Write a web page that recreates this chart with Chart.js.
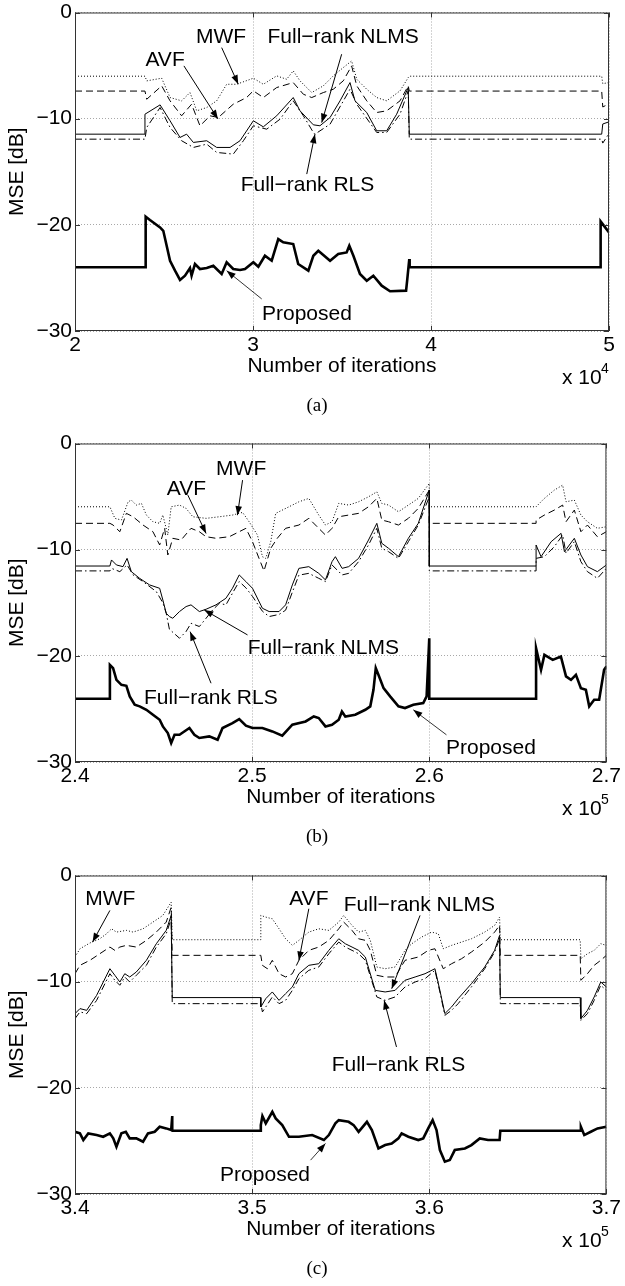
<!DOCTYPE html>
<html><head><meta charset="utf-8">
<script src="https://cdn.jsdelivr.net/npm/chart.js@4.4.1/dist/chart.umd.min.js"></script>
<style>
html,body{margin:0;padding:0;background:#fff;}
body{width:625px;height:1286px;position:relative;overflow:hidden;}
canvas{position:absolute;left:0;}
</style></head>
<body>
<canvas id="ca" width="625" height="425" style="top:-1px"></canvas>
<canvas id="cb" width="625" height="425" style="top:430px"></canvas>
<canvas id="cc" width="625" height="425" style="top:862px"></canvas>
<script>
// ---------- Panel (a): x in iterations, y in dB ----------
const mwfA = [[20000,-6.0],[23930,-6.0],[24030,-6.44],[24870,-6.19],[25340,-8.01],[25990,-8.32],[26460,-7.54],[26840,-9.26],[27400,-8.95],[27960,-8.32],[28520,-6.76],[29080,-6.76],[30020,-6.19],[30580,-6.76],[31330,-5.97],[31890,-6.29],[32260,-5.50],[32640,-6.44],[33300,-7.54],[33950,-6.91],[34510,-5.97],[35070,-5.19],[35540,-4.56],[35830,-6.29],[36390,-7.23],[36950,-8.01],[37510,-8.32],[38260,-7.38],[38720,-6.13],[38780,-6.0],[49590,-6.0],[49650,-6.7],[50000,-6.6]];
const avfA = [[20000,-7.4],[23930,-7.4],[24030,-8.17],[24870,-6.91],[25340,-8.32],[25990,-9.73],[26550,-8.64],[27020,-10.67],[27590,-9.73],[28050,-9.89],[28890,-8.64],[29640,-8.01],[30020,-7.38],[30580,-8.01],[31330,-7.07],[32260,-6.60],[32830,-7.70],[33300,-8.01],[33950,-7.54],[34510,-7.23],[35070,-6.44],[35540,-5.03],[35830,-6.91],[36390,-8.32],[36950,-9.42],[37510,-9.26],[38260,-8.32],[38720,-6.91],[38780,-7.4],[49590,-7.4],[49650,-8.9],[50000,-8.6]];
const nlmsA = [[20000,-11.46],[23930,-11.46],[23930,-9.58],[24780,-8.70],[25340,-10.20],[25900,-11.77],[26270,-11.46],[26650,-12.24],[27400,-12.08],[27960,-12.71],[28710,-12.71],[29270,-12.08],[30020,-10.20],[30580,-10.77],[31330,-9.73],[32260,-8.01],[32640,-9.26],[33390,-10.58],[33760,-10.67],[34330,-9.89],[34890,-8.32],[35450,-6.60],[35730,-8.32],[36390,-9.42],[36950,-11.14],[37510,-11.14],[38070,-9.58],[38720,-7.07],[38780,-11.46],[49590,-11.46],[49650,-10.5],[50000,-10.3]];
const rlsA = [[20000,-11.93],[23930,-11.93],[24030,-10.83],[24780,-8.95],[25340,-10.83],[25990,-12.08],[26650,-12.71],[27400,-12.40],[27960,-13.18],[28890,-13.34],[29460,-12.08],[30020,-10.67],[30770,-10.99],[31520,-10.05],[32260,-8.32],[32830,-9.73],[33390,-11.30],[33480,-11.46],[34330,-10.52],[35450,-7.23],[35830,-8.64],[36950,-11.30],[37510,-11.30],[38260,-9.58],[38720,-7.38],[38780,-11.93],[49590,-11.93],[49650,-12.3],[50000,-11.4]];
const propA = [[20000,-24.0],[23970,-24.0],[23970,-19.24],[24210,-19.55],[24780,-20.24],[24960,-20.56],[25150,-21.97],[25340,-23.38],[25620,-24.32],[25900,-25.19],[26180,-24.79],[26460,-24.07],[26550,-24.79],[26740,-23.69],[27020,-24.16],[27400,-24.07],[27770,-23.85],[28240,-24.63],[28520,-23.53],[28890,-24.16],[29270,-24.25],[29550,-24.16],[30020,-23.53],[30300,-23.94],[30670,-22.91],[31050,-23.38],[31420,-21.34],[31700,-21.65],[32260,-21.81],[32540,-23.69],[33110,-24.32],[33390,-22.91],[33670,-22.44],[34330,-23.38],[34790,-22.75],[35260,-22.60],[35410,-21.97],[35640,-22.91],[36010,-24.63],[36390,-25.26],[36760,-24.79],[37230,-25.73],[37700,-26.26],[38600,-26.20],[38670,-25.10],[38780,-23.22],[38800,-24.0],[49530,-24.0],[49530,-19.68],[50000,-20.71]];

// ---------- Panel (b) ----------
const mwfB = [[240000,-5.96],[241970,-5.96],[242250,-7.05],[242620,-7.21],[243000,-5.49],[243180,-5.33],[243460,-5.80],[243750,-5.64],[244030,-6.74],[244400,-7.37],[244780,-7.52],[244960,-6.74],[245240,-8.62],[245430,-5.96],[245900,-5.80],[246270,-6.11],[246650,-6.90],[247400,-7.05],[248150,-6.90],[248890,-6.74],[249460,-6.49],[249830,-7.37],[250300,-8.62],[250580,-10.66],[250770,-10.82],[251050,-9.25],[251330,-6.58],[252080,-5.96],[252640,-5.49],[253200,-5.17],[253760,-6.74],[254140,-7.68],[254510,-7.37],[254890,-5.64],[255450,-5.80],[256010,-5.49],[256570,-5.02],[257040,-4.55],[257320,-5.64],[257700,-5.80],[258260,-6.43],[258820,-5.80],[259380,-5.17],[260000,-3.76],[260000,-5.96],[266030,-5.96],[266500,-5.17],[267060,-4.39],[267530,-3.92],[267720,-5.49],[268190,-5.33],[268560,-6.74],[268930,-7.37],[269490,-7.99],[270000,-7.84]];
const avfB = [[240000,-7.52],[241970,-7.52],[242150,-7.68],[242530,-8.31],[242900,-6.58],[243280,-6.90],[243840,-7.68],[244400,-8.31],[244780,-9.56],[245060,-7.99],[245240,-10.50],[245520,-8.93],[245990,-9.09],[246550,-7.99],[247020,-8.31],[247400,-8.78],[247960,-8.93],[248710,-8.78],[249270,-8.31],[249650,-7.99],[250020,-9.25],[250390,-10.82],[250670,-12.0],[251050,-9.87],[251420,-8.93],[251890,-7.99],[252640,-7.68],[253200,-7.05],[253760,-7.99],[254140,-8.62],[254510,-7.99],[254890,-6.90],[255450,-6.74],[256010,-6.58],[256570,-5.96],[257040,-5.17],[257320,-7.21],[257700,-7.37],[258260,-7.68],[258820,-7.05],[259380,-6.11],[260000,-4.39],[260000,-7.52],[266030,-7.52],[266030,-7.21],[266500,-6.74],[267060,-6.27],[267530,-5.80],[267720,-7.37],[268190,-6.27],[268560,-8.31],[268930,-7.68],[269490,-8.78],[270000,-8.31]];
const nlmsB = [[240000,-11.54],[241970,-11.54],[242060,-10.97],[242340,-11.44],[242710,-11.60],[242940,-10.82],[243180,-12.07],[243650,-12.70],[244210,-13.32],[244780,-13.64],[244960,-14.74],[245150,-15.99],[245330,-16.3],[245520,-16.46],[245900,-15.83],[246270,-15.36],[246550,-15.2],[247020,-15.83],[247400,-15.61],[247960,-15.20],[248520,-14.58],[248890,-13.64],[249270,-12.38],[249650,-13.01],[250020,-13.64],[250580,-15.52],[250960,-15.83],[251520,-15.83],[251890,-15.20],[252270,-13.32],[252640,-11.76],[253200,-11.60],[253760,-12.23],[254140,-12.85],[254510,-11.13],[254700,-10.66],[255080,-11.76],[255450,-11.60],[256010,-10.82],[256570,-9.09],[257040,-7.52],[257320,-9.40],[257700,-9.87],[258260,-10.66],[258820,-8.93],[259380,-7.52],[260000,-4.39],[260000,-11.54],[266030,-11.54],[266030,-9.56],[266310,-10.66],[266880,-9.25],[267440,-8.46],[267630,-10.19],[268190,-8.93],[268560,-10.50],[268930,-11.60],[269490,-12.07],[270000,-11.44]];
const rlsB = [[240000,-12.0],[241970,-12.0],[242060,-11.76],[242530,-12.07],[242940,-11.44],[243280,-12.38],[243840,-13.01],[244590,-13.95],[244960,-15.0],[245150,-15.99],[245330,-17.5],[245900,-18.34],[246270,-17.71],[246550,-16.93],[247020,-17.24],[247400,-16.46],[247770,-15.68],[248150,-15.05],[248520,-15.2],[248890,-14.1],[249270,-13.0],[249650,-13.6],[250020,-14.4],[250580,-15.8],[250960,-16.3],[251520,-16.1],[251890,-15.7],[252270,-14.0],[252640,-12.4],[253200,-12.23],[253760,-12.70],[254140,-13.01],[254510,-11.44],[255080,-12.38],[255450,-12.23],[256010,-11.13],[256570,-9.56],[257040,-7.99],[257320,-9.87],[257700,-10.19],[258260,-10.82],[258820,-9.25],[259380,-7.68],[260000,-5.02],[260000,-12.0],[266030,-12.0],[266030,-10.82],[266500,-10.66],[267060,-9.72],[267530,-8.62],[267720,-10.34],[268190,-9.25],[268560,-11.13],[268930,-12.07],[269490,-12.70],[270000,-11.76]];
const propB = [[240000,-24.04],[241970,-24.04],[241970,-20.85],[242150,-21.16],[242340,-22.26],[242620,-22.73],[242900,-22.82],[243090,-23.82],[243370,-24.61],[243650,-24.76],[244030,-25.08],[244400,-25.55],[244780,-26.02],[244960,-26.65],[245240,-27.27],[245430,-28.21],[245620,-27.43],[245900,-27.43],[246460,-26.80],[246740,-27.43],[247020,-27.74],[247580,-27.59],[248050,-27.90],[248330,-26.80],[248890,-26.33],[249270,-25.96],[249650,-26.58],[250020,-26.80],[250580,-26.80],[251140,-27.12],[251700,-27.52],[252270,-26.49],[253020,-26.18],[253480,-25.71],[253760,-25.86],[254140,-26.65],[254510,-26.49],[254890,-26.02],[255070,-25.24],[255260,-25.71],[255820,-25.55],[256390,-25.08],[256670,-24.76],[256850,-23.20],[256980,-21.16],[257130,-21.79],[257420,-23.04],[257790,-23.82],[258260,-24.76],[258630,-24.92],[259100,-24.61],[259660,-24.45],[259850,-23.82],[260000,-18.34],[260000,-24.04],[266030,-24.04],[266030,-19.28],[266310,-21.32],[266500,-19.91],[266970,-20.38],[267430,-20.06],[267720,-21.94],[268000,-22.26],[268280,-21.79],[268560,-23.04],[268840,-23.20],[269030,-24.76],[269310,-24.14],[269590,-24.14],[269870,-21.32],[270000,-21.0]];

// ---------- Panel (c) ----------
const mwfC = [[340000,-7.68],[340280,-6.90],[340840,-6.36],[341400,-5.96],[341780,-5.49],[342060,-5.02],[342340,-5.33],[342900,-5.17],[343280,-5.33],[343840,-5.02],[344400,-4.39],[344960,-3.76],[345430,-2.51],[345490,-6.05],[350490,-6.05],[350490,-3.76],[350770,-3.92],[351140,-4.08],[351520,-5.02],[351890,-5.96],[352270,-6.58],[352640,-6.11],[353200,-5.33],[353760,-5.02],[354330,-5.17],[354890,-4.39],[355170,-3.76],[355640,-4.70],[356010,-5.33],[356390,-5.17],[356670,-6.11],[357040,-8.62],[357510,-8.78],[358070,-8.62],[358630,-7.05],[359010,-6.43],[359570,-5.80],[360130,-5.33],[360510,-5.49],[360790,-6.90],[361260,-6.58],[361820,-6.27],[362380,-5.96],[363130,-5.33],[363690,-4.70],[363970,-3.92],[364010,-6.05],[368520,-6.05],[368560,-7.84],[368930,-7.37],[369310,-7.05],[369680,-6.43],[370000,-6.58]];
const avfC = [[340000,-9.25],[340280,-8.46],[340840,-7.99],[341400,-7.37],[341970,-6.74],[342250,-7.05],[342530,-6.74],[342900,-6.58],[343460,-6.74],[344030,-6.11],[344590,-5.33],[345150,-4.39],[345430,-2.98],[345490,-7.52],[350490,-7.52],[350580,-8.46],[350860,-8.78],[351140,-7.99],[351520,-9.25],[351890,-9.56],[352270,-9.25],[352640,-7.99],[353200,-7.05],[353760,-6.74],[354330,-6.11],[354890,-5.02],[355170,-4.39],[355640,-5.17],[356010,-5.96],[356390,-6.11],[356670,-7.05],[357040,-9.40],[357510,-9.56],[358070,-9.56],[358630,-7.99],[359380,-7.68],[359940,-7.05],[360320,-6.90],[360790,-8.78],[361260,-8.31],[361820,-7.84],[362380,-7.21],[363130,-6.27],[363690,-5.33],[363970,-4.70],[364010,-7.52],[368520,-7.52],[368560,-9.87],[368930,-9.25],[369310,-8.46],[369680,-7.99],[370000,-7.52]];
const nlmsC = [[340000,-13.01],[340280,-12.54],[340660,-12.70],[341220,-11.29],[341970,-8.78],[342250,-9.40],[342530,-10.03],[342810,-9.25],[343090,-9.56],[343460,-9.09],[344030,-7.99],[344590,-6.43],[345150,-5.17],[345430,-3.76],[345490,-11.50],[350490,-11.50],[350490,-12.38],[350770,-11.60],[351140,-10.97],[351520,-11.76],[351890,-11.13],[352270,-10.50],[352640,-9.25],[353200,-8.46],[353760,-8.31],[354330,-7.05],[354890,-5.96],[355260,-6.43],[355640,-6.74],[356010,-7.05],[356390,-7.68],[356950,-10.82],[357510,-10.97],[358070,-10.82],[358630,-9.87],[359200,-9.56],[359760,-9.25],[360320,-8.78],[360600,-10.82],[360880,-13.01],[361260,-12.38],[361630,-11.60],[362380,-10.19],[363130,-8.62],[363690,-7.05],[363970,-5.64],[364010,-11.50],[368520,-11.50],[368560,-13.48],[368930,-12.70],[369310,-11.44],[369680,-10.03],[370000,-10.50]];
const rlsC = [[340000,-13.48],[340280,-12.85],[340660,-13.01],[341220,-11.76],[341970,-9.25],[342250,-9.87],[342530,-10.34],[342810,-9.56],[343090,-10.03],[343460,-9.40],[344030,-8.46],[344590,-6.74],[345150,-5.49],[345430,-4.08],[345490,-12.07],[350490,-12.07],[350580,-12.85],[350770,-12.38],[351140,-11.44],[351520,-12.07],[351890,-11.76],[352270,-10.82],[352640,-9.72],[353200,-8.93],[353760,-8.62],[354330,-7.37],[354890,-6.27],[355260,-6.74],[355640,-7.05],[356010,-7.37],[356390,-7.99],[357040,-11.44],[357510,-11.76],[358070,-11.44],[358630,-10.50],[359200,-10.03],[359760,-9.72],[360320,-8.93],[360600,-10.97],[360880,-13.17],[361260,-12.70],[361630,-12.07],[362380,-10.50],[363130,-8.78],[363690,-7.21],[363970,-5.96],[364010,-12.07],[368520,-12.07],[368560,-13.64],[368930,-13.01],[369310,-11.76],[369680,-10.34],[370000,-10.82]];
const propC = [[340000,-24.14],[340280,-24.29],[340470,-24.92],[340750,-24.29],[341220,-24.45],[341590,-24.61],[341970,-24.29],[342160,-24.76],[342340,-25.55],[342620,-24.29],[342870,-24.14],[343090,-24.76],[343460,-24.76],[343840,-25.08],[344120,-24.29],[344500,-24.14],[344780,-23.67],[345150,-23.82],[345430,-23.98],[345490,-22.66],[345490,-24.04],[350490,-24.04],[350490,-23.51],[350580,-22.66],[350770,-23.35],[351140,-22.26],[351330,-22.88],[351700,-23.51],[352080,-24.61],[352640,-24.61],[353390,-24.45],[354050,-24.92],[354330,-24.45],[354700,-23.35],[354890,-23.04],[355450,-23.20],[355730,-23.51],[356010,-24.14],[356480,-23.20],[356760,-23.98],[357130,-25.71],[357510,-25.39],[357880,-25.24],[358260,-24.76],[358440,-24.29],[358820,-24.61],[359380,-24.92],[359660,-24.76],[359940,-23.82],[360190,-23.04],[360410,-23.98],[360600,-25.86],[360880,-26.96],[361160,-26.80],[361440,-25.86],[362010,-25.71],[362380,-25.39],[362850,-24.76],[363320,-24.92],[363970,-24.92],[364010,-24.04],[368520,-24.04],[368560,-23.67],[368750,-24.45],[369120,-24.14],[369500,-23.82],[370000,-23.67]];

// tick values
const yTicks = [-30, -20, -10, 0];
const xTicksA = [20000, 30000, 40000, 50000];
const xTicksB = [240000, 250000, 260000, 270000];
const xTicksC = [340000, 350000, 360000, 370000];

// labels (text, text position, arrow from -> to), in data coordinates
const notesA = [
  ['MWF', 28200, -2.21, 28240, -3.31, 29170, -6.75],
  ['AVF', 25060, -4.37, 26120, -5.03, 28030, -10.02],
  ['Full\u2212rank NLMS', 35060, -2.21, 34980, -3.93, 33860, -10.37],
  ['Full\u2212rank RLS', 33060, -16.13, 33020, -15.22, 33480, -11.46],
  ['Proposed', 33030, -28.24, 30490, -26.98, 28520, -24.32]
];
const notesB = [
  ['MWF', 249380, -2.23, 249460, -3.45, 249170, -6.75],
  ['AVF', 246290, -4.11, 246370, -4.86, 247400, -8.47],
  ['Full\u2212rank NLMS', 254020, -19.13, 249740, -18.03, 247300, -15.68],
  ['Full\u2212rank RLS', 247670, -23.84, 247680, -22.58, 246500, -17.72],
  ['Proposed', 263480, -28.54, 260970, -27.44, 259100, -25.09]
];
const notesC = [
  ['MWF', 341990, -2.04, 341970, -3.29, 340990, -6.27],
  ['AVF', 353200, -2.04, 353200, -3.13, 352640, -8.00],
  ['Full\u2212rank NLMS', 359440, -2.66, 359480, -3.76, 357880, -10.66],
  ['Full\u2212rank RLS', 358260, -17.71, 358150, -16.15, 357450, -11.76],
  ['Proposed', 350730, -28.06, 353300, -26.81, 354140, -25.24]
];

const SANS = '"Liberation Sans", Arial, Helvetica, sans-serif';
const SERIF = '"Liberation Serif", "Times New Roman", serif';
Chart.defaults.color = '#000';

function arrow(ctx, x1, y1, x2, y2, w) {
  ctx.lineWidth = w;
  ctx.beginPath(); ctx.moveTo(x1, y1); ctx.lineTo(x2, y2); ctx.stroke();
  const ang = Math.atan2(y2 - y1, x2 - x1), L = 9, H = 3.3;
  ctx.beginPath();
  ctx.moveTo(x2, y2);
  ctx.lineTo(x2 - L * Math.cos(ang) + H * Math.sin(ang), y2 - L * Math.sin(ang) - H * Math.cos(ang));
  ctx.lineTo(x2 - L * Math.cos(ang) - H * Math.sin(ang), y2 - L * Math.sin(ang) + H * Math.cos(ang));
  ctx.closePath(); ctx.fill();
}

const framePlugin = {
  id: 'frame',
  afterDatasetsDraw(chart, args, o) {
    const {ctx, chartArea: a, scales: {x, y}} = chart;
    ctx.save();
    // box
    ctx.strokeStyle = '#333'; ctx.lineWidth = 1;
    ctx.strokeRect(a.left + 0.5, a.top + 0.5, a.right - a.left - 1, a.bottom - a.top - 1);
    // inner tick marks
    ctx.beginPath();
    o.xt.forEach(v => {
      const p = Math.round(x.getPixelForValue(v)) + 0.5;
      ctx.moveTo(p, a.bottom); ctx.lineTo(p, a.bottom - 5);
      ctx.moveTo(p, a.top); ctx.lineTo(p, a.top + 5);
    });
    yTicks.forEach(v => {
      const p = Math.round(y.getPixelForValue(v)) + 0.5;
      ctx.moveTo(a.left, p); ctx.lineTo(a.left + 5, p);
      ctx.moveTo(a.right, p); ctx.lineTo(a.right - 5, p);
    });
    ctx.stroke();
    // annotations
    ctx.fillStyle = '#000'; ctx.strokeStyle = '#000';
    ctx.font = '21px ' + SANS; ctx.textAlign = 'center'; ctx.textBaseline = 'alphabetic';
    o.notes.forEach(n => {
      ctx.fillText(n[0], x.getPixelForValue(n[1]), y.getPixelForValue(n[2]) + 7.5);
      arrow(ctx, x.getPixelForValue(n[3]), y.getPixelForValue(n[4]),
                 x.getPixelForValue(n[5]), y.getPixelForValue(n[6]), n[0] === 'Proposed' ? 0.8 : 1);
    });
    // exponent
    ctx.textAlign = 'left';
    ctx.fillText('x 10', 562, a.bottom + 53);
    ctx.font = '14px ' + SANS;
    ctx.fillText(o.exp, 601, a.bottom + 42);
    // caption
    ctx.font = '19px ' + SERIF; ctx.textAlign = 'center';
    ctx.fillText(o.cap, 317, a.bottom + 80);
    ctx.restore();
  }
};

function makeChart(id, s, xmin, xmax, scale, xt, notes, exp, cap) {
  const font = {family: SANS, size: 21, lineHeight: 1};
  const styles = [
    {dash: [1, 2], w: 1},
    {dash: [7, 4], w: 1},
    {dash: [], w: 1},
    {dash: [7, 3, 1.5, 3], w: 1},
    {dash: [], w: 2.6}
  ];
  new Chart(document.getElementById(id), {
    type: 'line',
    data: {
      datasets: s.map((d, i) => ({
        data: d.map(p => ({x: p[0], y: p[1]})),
        borderColor: '#000', borderWidth: styles[i].w, borderDash: styles[i].dash,
        pointRadius: 0, tension: 0, fill: false
      }))
    },
    options: {
      responsive: false, animation: false, devicePixelRatio: 1, events: [],
      layout: {padding: {left: 0, right: 16, top: 13, bottom: 45}},
      plugins: {legend: {display: false}, tooltip: {enabled: false},
                frame: {xt, notes, exp, cap}},
      scales: {
        x: {
          type: 'linear', min: xmin, max: xmax,
          afterFit: sc => { sc.height = 48; },
          afterBuildTicks: sc => { sc.ticks = xt.map(v => ({value: v})); },
          ticks: {callback: v => String(Math.round(v / scale * 10) / 10), font, color: '#000',
                  padding: 4, maxRotation: 0, autoSkip: false},
          grid: {color: '#a8a8a8', lineWidth: 1, drawTicks: false},
          border: {display: false, dash: [1, 2]},
          title: {display: true, text: 'Number of iterations', font, color: '#000', padding: {top: 0, bottom: 2}}
        },
        y: {
          min: -30, max: 0,
          afterFit: sc => { sc.width = 75; },
          afterBuildTicks: sc => { sc.ticks = yTicks.map(v => ({value: v})); },
          ticks: {callback: v => v === 0 ? '0' : '\u2212' + Math.abs(v), font, color: '#000', padding: 3},
          grid: {color: '#a8a8a8', lineWidth: 1, drawTicks: false},
          border: {display: false, dash: [1, 2]},
          title: {display: true, text: 'MSE [dB]', font, color: '#000', padding: {top: 7, bottom: 0}}
        }
      }
    },
    plugins: [framePlugin]
  });
}

makeChart('ca', [mwfA, avfA, nlmsA, rlsA, propA], 20000, 50000, 1e4, xTicksA, notesA, '4', '(a)');
makeChart('cb', [mwfB, avfB, nlmsB, rlsB, propB], 240000, 270000, 1e5, xTicksB, notesB, '5', '(b)');
makeChart('cc', [mwfC, avfC, nlmsC, rlsC, propC], 340000, 370000, 1e5, xTicksC, notesC, '5', '(c)');
</script>
</body></html>
